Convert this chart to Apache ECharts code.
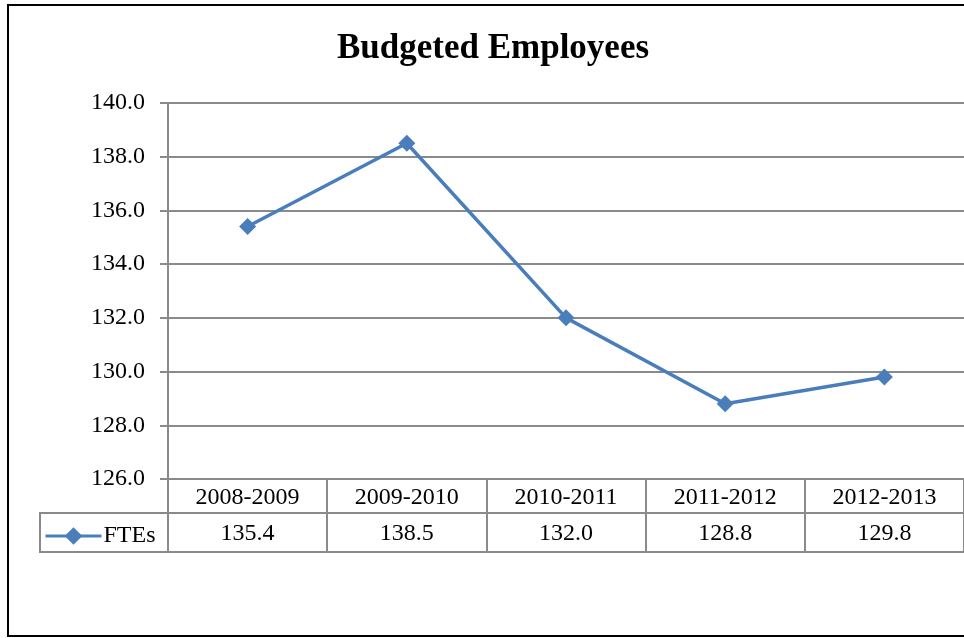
<!DOCTYPE html>
<html>
<head>
<meta charset="utf-8">
<script src="https://cdn.jsdelivr.net/npm/echarts@6/dist/echarts.min.js"></script>
<style>html,body{margin:0;padding:0;background:#fff;}#c{width:964px;height:638px;}</style>
</head>
<body>
<div id="c"></div>
<script>
var titleText = 'Budgeted Employees';
var seriesName = 'FTEs';
var categories = ['2008-2009', '2009-2010', '2010-2011', '2011-2012', '2012-2013'];
var values = [135.4, 138.5, 132.0, 128.8, 129.8];
var yMin = 126, yMax = 140, yStep = 2;

var FONT = "'Liberation Serif', 'Times New Roman', serif";
var GRID = '#8a8a8a';
var BLUE = '#4a7ebb';

var chart = echarts.init(document.getElementById('c'), null, {renderer: 'canvas'});
chart.setOption({
  backgroundColor: '#fff',
  animation: false,
  title: {
    text: titleText, left: 488, top: 26, textAlign: 'center',
    textStyle: {fontFamily: FONT, fontSize: 35, fontWeight: 'bold', color: '#000'}
  },
  legend: {
    left: 39, top: 519, itemWidth: 56, itemHeight: 22, itemGap: 0,
    data: [seriesName],
    lineStyle: {width: 3},
    textStyle: {fontFamily: FONT, fontSize: 24, color: '#000', padding: [0, 0, 0, -3]}
  },
  grid: {left: 168, top: 103, right: -4, bottom: 159, containLabel: false},
  xAxis: [
    {
      type: 'category', data: categories, position: 'bottom',
      axisLine: {show: true, lineStyle: {color: GRID, width: 2}},
      axisTick: {show: true, length: 73, interval: 0, alignWithLabel: false, lineStyle: {color: GRID, width: 2}},
      axisLabel: {show: true, interval: 0, margin: 7, fontFamily: FONT, fontSize: 24, color: '#000'},
      splitLine: {show: false}
    },
    {
      type: 'category', data: values.map(function (v) { return v.toFixed(1); }), position: 'bottom', offset: 34,
      axisLine: {show: true, lineStyle: {color: GRID, width: 2}},
      axisTick: {show: false},
      axisLabel: {show: true, interval: 0, margin: 9, fontFamily: FONT, fontSize: 24, color: '#000'},
      splitLine: {show: false}
    },
    {
      type: 'category', data: categories, position: 'bottom', offset: 73,
      axisLine: {show: true, lineStyle: {color: GRID, width: 2}},
      axisTick: {show: false}, axisLabel: {show: false}, splitLine: {show: false}
    }
  ],
  yAxis: {
    type: 'value', min: yMin, max: yMax, interval: yStep,
    axisLine: {show: true, lineStyle: {color: GRID, width: 2}},
    axisTick: {show: true, length: 8, lineStyle: {color: GRID, width: 2}},
    axisLabel: {margin: 23, fontFamily: FONT, fontSize: 24, color: '#000',
      formatter: function (v) { return v.toFixed(1); }},
    splitLine: {show: true, lineStyle: {color: GRID, width: 2}}
  },
  series: [{
    name: seriesName, type: 'line', data: values, xAxisIndex: 0,
    symbol: 'diamond', symbolSize: 17,
    lineStyle: {color: BLUE, width: 3.5},
    itemStyle: {color: BLUE},
    z: 5
  }],
  graphic: [
    {type: 'rect', shape: {x: 8, y: 5, width: 980, height: 631}, style: {fill: 'none', stroke: '#000', lineWidth: 2}, z: 100},
    {type: 'polyline', shape: {points: [[168, 513], [40, 513], [40, 552], [168, 552]]}, style: {fill: 'none', stroke: GRID, lineWidth: 2}}
  ]
});
</script>
</body>
</html>
